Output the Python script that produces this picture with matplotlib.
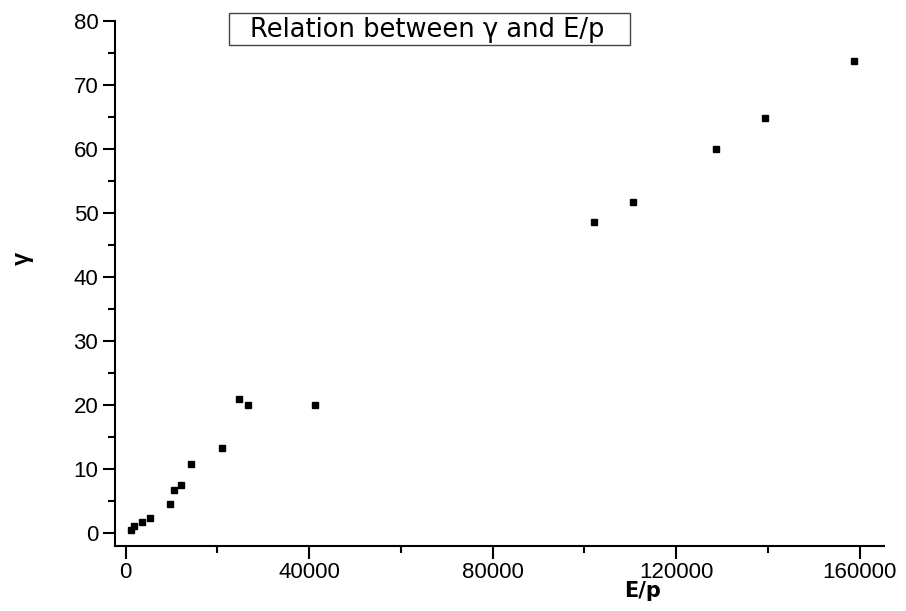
import matplotlib
matplotlib.use('Agg')
import matplotlib.pyplot as plt
from matplotlib.patches import Rectangle
from matplotlib.ticker import MultipleLocator

plt.rcParams['font.family'] = ['Liberation Sans', 'DejaVu Sans']

# data
e_over_p = [1100, 1800, 3600, 5300, 9700, 10500, 12100, 14300, 21000, 24800,
            26600, 41200, 102100, 110500, 128600, 139300, 158800]
gamma = [0.4, 1.1, 1.6, 2.3, 4.5, 6.6, 7.5, 10.7, 13.2, 20.9,
         20.0, 20.0, 48.5, 51.6, 60.0, 64.8, 73.7]

fig = plt.figure(figsize=(9.06, 6.11), dpi=100)
ax = fig.add_axes([115 / 906, 1 - 545.5 / 611, (884 - 115) / 906, (545.5 - 20.7) / 611])

ax.plot(e_over_p, gamma, 's', color='black', ms=5, mec='black')

ax.set_xlim(-2300, 165300)
ax.set_ylim(-2, 80)
ax.xaxis.set_major_locator(MultipleLocator(40000))
ax.xaxis.set_minor_locator(MultipleLocator(20000))
ax.yaxis.set_major_locator(MultipleLocator(10))
ax.yaxis.set_minor_locator(MultipleLocator(5))

for side in ['top', 'right']:
    ax.spines[side].set_visible(False)
for side in ['left', 'bottom']:
    ax.spines[side].set_linewidth(1.5)

ax.tick_params(which='major', length=9, width=1.5, labelsize=16, pad=3)
ax.tick_params(which='minor', length=5, width=1.5)

fig.text(22 / 906, 1 - 258 / 611, 'γ', rotation=90, fontsize=17, fontweight='bold',
         ha='center', va='center')
fig.text(643 / 906, 1 - 597 / 611, 'E/p', fontsize=15, fontweight='bold',
         family='DejaVu Sans', ha='center', va='baseline')

fig.patches.append(Rectangle((229 / 906, 1 - 45 / 611), 401 / 906, 32.3 / 611,
                             transform=fig.transFigure, fill=False,
                             edgecolor='#444444', linewidth=1))
fig.text(427 / 906, 1 - 37.3 / 611, 'Relation between γ and E/p', fontsize=18.5,
         family='DejaVu Sans', ha='center', va='baseline')

fig.savefig('out.png', dpi=100)
